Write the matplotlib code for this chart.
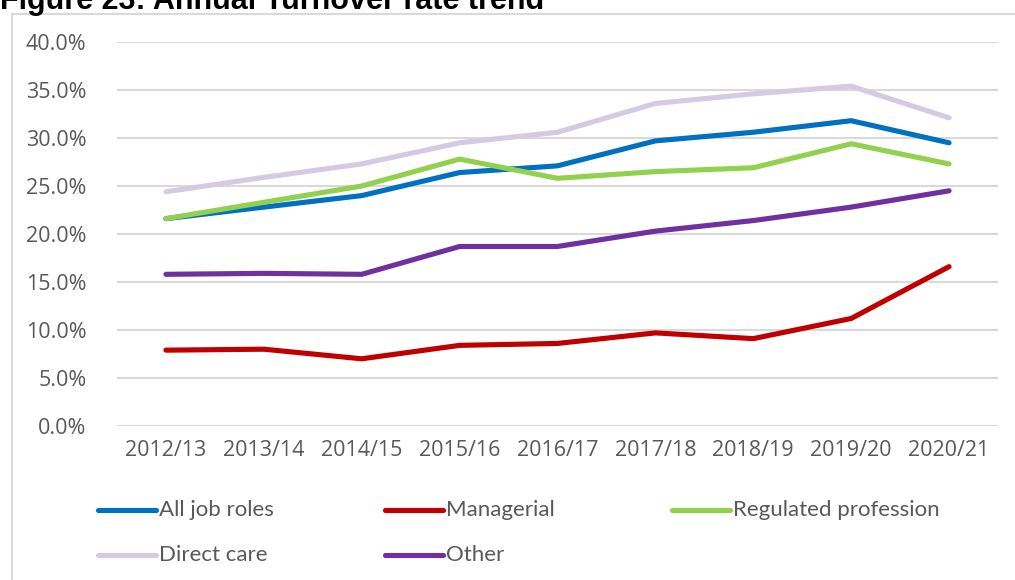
import matplotlib
matplotlib.use("Agg")
import matplotlib.pyplot as plt
from matplotlib.lines import Line2D
from matplotlib.patches import Rectangle
from matplotlib.ticker import FuncFormatter, MultipleLocator

years = ["2012/13", "2013/14", "2014/15", "2015/16", "2016/17",
         "2017/18", "2018/19", "2019/20", "2020/21"]
all_job_roles = [21.6, 22.8, 24.0, 26.4, 27.1, 29.7, 30.6, 31.8, 29.5]
managerial = [7.9, 8.0, 7.0, 8.4, 8.6, 9.7, 9.1, 11.2, 16.6]
regulated = [21.6, 23.3, 25.0, 27.8, 25.8, 26.5, 26.9, 29.4, 27.3]
direct_care = [24.4, 25.9, 27.3, 29.5, 30.6, 33.6, 34.6, 35.4, 32.1]
other = [15.8, 15.9, 15.8, 18.7, 18.7, 20.3, 21.4, 22.8, 24.5]

series_names = ["All job roles", "Managerial", "Regulated profession", "Direct care", "Other"]
series_values = [all_job_roles, managerial, regulated, direct_care, other]
colors = ["#0070C0", "#C00000", "#92D050", "#D5CAE4", "#7030A0"]
draw_order = [3, 0, 2, 4, 1]

W, H = 1015, 580
fig = plt.figure(figsize=(W / 100, H / 100), dpi=100)

# outer chart frame
fig.patches.append(Rectangle((12 / W, -0.1), 1.2, 1 - 14 / H + 0.1,
                             transform=fig.transFigure, fill=False,
                             edgecolor="#D9D9D9", linewidth=1.5))

# partially visible title (cut at the top edge, as in the source)
fig.text(0.0, 1.0 - 1 / H, "Figure 23: Annual Turnover rate trend", ha="left", va="center",
         fontsize=22, fontweight="bold", family="Liberation Sans", color="black")

ax = fig.add_axes([117 / W, 1 - 426 / H, 881 / W, (426 - 42) / H])
x = list(range(len(years)))
for i in draw_order:
    ax.plot(x, series_values[i], color=colors[i], linewidth=3.7,
            solid_capstyle="round", solid_joinstyle="round", zorder=3)

ax.set_xlim(-0.5, len(years) - 0.5)
ax.set_ylim(0, 40)
ax.yaxis.set_major_locator(MultipleLocator(5))
ax.yaxis.set_major_formatter(FuncFormatter(lambda v, p: f"{v:.1f}%"))
ax.set_xticks(x)
ax.set_xticklabels(years)
ax.grid(axis="y", color="#D9D9D9", linewidth=1.5)
ax.set_axisbelow(True)
for s in ax.spines.values():
    s.set_visible(False)
ax.tick_params(length=0, labelsize=15.5, labelcolor="#595959")
ax.tick_params(axis="y", pad=22)
ax.tick_params(axis="x", pad=10)
for lab in ax.get_xticklabels() + ax.get_yticklabels():
    lab.set_family("Open Sans")

# legend (manual placement)
legend_pos = [(98, 510), (385, 510), (672, 510), (98, 555), (385, 555)]
for i, (lx, ly) in enumerate(legend_pos):
    yf = 1 - ly / H
    fig.add_artist(Line2D([lx / W, (lx + 58) / W], [yf, yf], transform=fig.transFigure,
                          color=colors[i], linewidth=3.7, solid_capstyle="round"))
    fig.text((lx + 61) / W, yf, series_names[i], ha="left", va="center",
             fontsize=16, family="Lato", color="#595959")

fig.savefig("out.png", dpi=100)
